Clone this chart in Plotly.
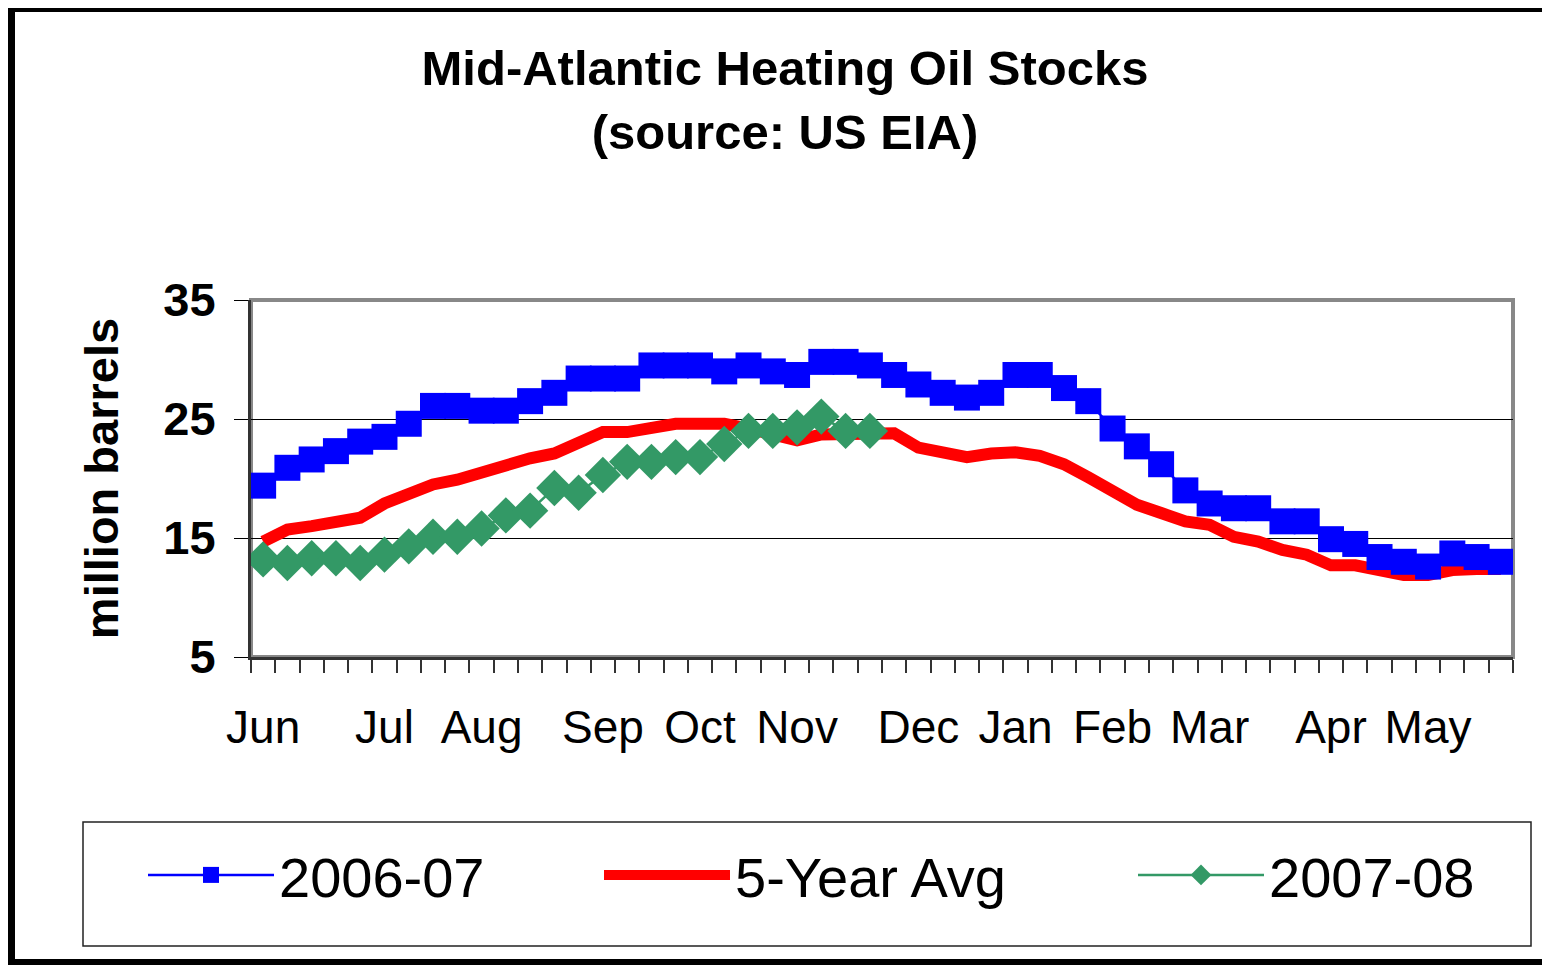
import plotly.graph_objects as go

# ---------------- data ----------------
weeks = list(range(52))  # weekly observations, June through May

stocks_2006_07 = [19.4, 20.9, 21.6, 22.3, 23.1, 23.5, 24.6, 26.1, 26.1, 25.7,
                  25.7, 26.5, 27.2, 28.4, 28.4, 28.4, 29.5, 29.5, 29.5, 29.0,
                  29.5, 29.0, 28.7, 29.8, 29.8, 29.5, 28.7, 27.9, 27.2, 26.8,
                  27.2, 28.7, 28.7, 27.6, 26.5, 24.2, 22.7, 21.2, 19.0, 17.9,
                  17.5, 17.5, 16.4, 16.4, 14.9, 14.5, 13.4, 13.0, 12.6, 13.7,
                  13.4, 13.0]

five_year_avg = [14.7, 15.7, 16.0, 16.4, 16.7, 17.9, 18.7, 19.5, 19.9, 20.5,
                 21.3, 21.7, 22.1, 22.9, 23.9, 23.9, 24.3, 24.6, 24.6, 24.6,
                 24.2, 23.7, 23.2, 23.7, 23.8, 23.8, 23.8, 22.6, 22.2, 21.8,
                 22.1, 22.2, 21.9, 21.2, 20.1, 19.0, 17.8, 17.1, 16.4, 16.1,
                 15.1, 14.7, 14.0, 13.6, 12.7, 12.7, 12.3, 11.9, 11.9, 12.3,
                 12.4, 12.4]

stocks_2007_08 = [13.2, 12.9, 13.3, 13.3, 12.9, 13.6, 14.3, 15.1, 15.1, 15.8,
                  16.9, 17.3, 19.2, 18.8, 20.3, 21.4, 21.4, 21.8, 21.8, 22.9,
                  24.0, 24.0, 24.3, 25.2, 24.0, 24.0]

month_labels = ["Jun", "Jul", "Aug", "Sep", "Oct", "Nov",
                "Dec", "Jan", "Feb", "Mar", "Apr", "May"]
month_weeks = [0, 5, 9, 14, 18, 22, 27, 31, 35, 39, 44, 48]

y_ticks = [5, 15, 25, 35]

# ---------------- layout helpers ----------------
OFF = 8                      # page body margin in the browser
W, H = 1550 - OFF, 965 - OFF
PL, PR, PT, PB = 251, 1513, 300, 657   # plot area in screen pixels


def px_x(x):
    return (x - PL) / (PR - PL)


def px_y(y):
    return (PB - y) / (PB - PT)


FONT = "Liberation Sans, Arial, sans-serif"

fig = go.Figure()

fig.add_trace(go.Scatter(
    x=weeks, y=five_year_avg, name="5-Year Avg", mode="lines",
    line=dict(color="#FF0000", width=12), legend="legend2",
))
fig.add_trace(go.Scatter(
    x=weeks, y=stocks_2006_07, name="2006-07", mode="lines+markers",
    line=dict(color="#0000FF", width=2.5),
    marker=dict(symbol="square", size=26, color="#0000FF",
                line=dict(width=0)),
    legend="legend",
))
fig.add_trace(go.Scatter(
    x=weeks[:len(stocks_2007_08)], y=stocks_2007_08, name="2007-08",
    mode="lines+markers",
    line=dict(color="#339966", width=2.5),
    marker=dict(symbol="diamond", size=28, color="#339966",
                line=dict(width=0)),
    legend="legend3",
))

shapes = [
    # plot-area frame (grey top/right)
    dict(type="rect", xref="paper", yref="paper", x0=0, x1=1, y0=0, y1=1,
         line=dict(color="#888888", width=4), layer="below"),
    # legend box
    dict(type="rect", xref="paper", yref="paper",
         x0=px_x(83), x1=px_x(1531), y0=px_y(946), y1=px_y(822),
         line=dict(color="#222222", width=1.5), layer="below"),
    # outer chart border
    dict(type="rect", xref="paper", yref="paper",
         x0=px_x(11), x1=px_x(1548), y0=px_y(963), y1=px_y(8),
         line=dict(color="#000000", width=8), layer="below"),
]

legend_font = dict(family=FONT, size=56, color="black")


def legend_at(x_px):
    return dict(orientation="h", x=px_x(x_px), y=px_y(875), xanchor="left",
                yanchor="middle", bgcolor="rgba(0,0,0,0)", borderwidth=0,
                font=legend_font, itemwidth=126)


fig.update_layout(
    width=W, height=H,
    margin=dict(l=PL - OFF, r=W - (PR - OFF), t=PT - OFF, b=H - (PB - OFF),
                pad=0),
    paper_bgcolor="white", plot_bgcolor="white",
    font=dict(family=FONT, color="black"),
    title=dict(
        text="<b>Mid-Atlantic Heating Oil Stocks</b><br><b>(source: US EIA)</b>",
        x=(785 - OFF) / W, xref="container", xanchor="center",
        y=1 - 77 / H, yref="container", yanchor="middle",
        font=dict(family=FONT, size=49, color="black"),
    ),
    xaxis=dict(
        range=[-0.5, 51.5], showgrid=False, zeroline=False,
        showline=True, linecolor="#333333", linewidth=3,
        tickmode="array", tickvals=month_weeks, ticktext=month_labels,
        ticks="outside", ticklen=13, tickcolor="rgba(0,0,0,0)",
        ticklabelstandoff=15,
        tickfont=dict(family=FONT, size=46, color="black"),
        minor=dict(tickmode="array",
                   tickvals=[w - 0.5 for w in weeks] + [weeks[-1] + 0.5],
                   ticks="outside", ticklen=13, tickcolor="#333333",
                   tickwidth=1.5, showgrid=False),
    ),
    yaxis=dict(
        range=[5, 35], tickmode="array", tickvals=y_ticks,
        showgrid=True, gridcolor="#000000", gridwidth=1, zeroline=False,
        showline=True, linecolor="#333333", linewidth=3,
        ticks="outside", ticklen=14, tickcolor="#000000", tickwidth=1,
        ticklabelstandoff=9,
        tickfont=dict(family=FONT, size=47, color="black", weight="bold"),
        title=dict(text="<b>million barrels</b>", standoff=30,
                   font=dict(family=FONT, size=47, color="black")),
    ),
    legend=legend_at(143),
    legend2=legend_at(599),
    legend3=legend_at(1133),
    shapes=shapes,
    showlegend=True,
)

fig.write_html("out.html")
